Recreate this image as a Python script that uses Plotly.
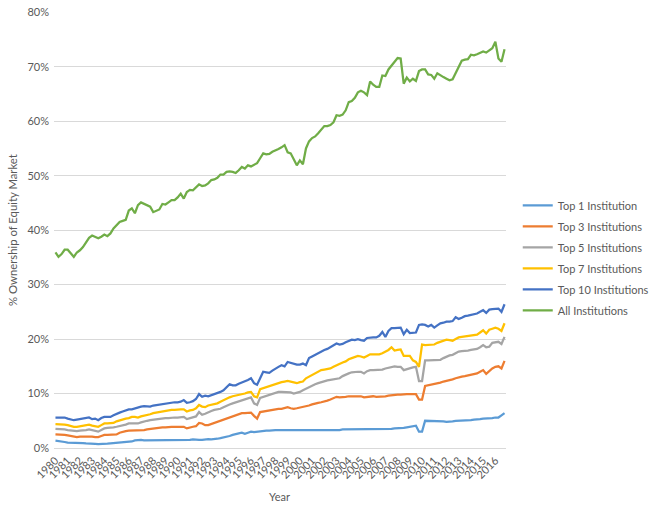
import plotly.graph_objects as go

years = list(range(1980, 2017))
year_labels = [str(y) for y in years]
y_ticks = [0, 10, 20, 30, 40, 50, 60, 70, 80]
y_tick_labels = ["0%", "10%", "20%", "30%", "40%", "50%", "60%", "70%", "80%"]

top1 = [1.35, 1.3, 1.2, 1.1, 1.0, 1.0, 0.95, 0.95, 0.9, 0.9, 0.85, 0.85, 0.8, 0.75, 0.7, 0.7,
        0.7, 0.8, 0.85, 0.9, 0.9, 1.0, 1.0, 1.1, 1.1, 1.2, 1.4, 1.5, 1.5, 1.4, 1.4, 1.4,
        1.4, 1.5, 1.5, 1.5, 1.5, 1.5, 1.5, 1.5, 1.4, 1.4, 1.4, 1.4, 1.5, 1.6, 1.5, 1.5,
        1.5, 1.6, 1.65, 1.6, 1.6, 1.7, 1.8, 1.9, 2.0, 2.2, 2.4, 2.6, 2.7, 2.8, 2.6, 2.8,
        3.0, 2.9, 3.0, 3.1, 3.1, 3.2, 3.2, 3.3, 3.3, 3.3, 3.3, 3.3, 3.3, 3.3, 3.2, 3.2,
        3.2, 3.2, 3.2, 3.2, 3.2, 3.2, 3.2, 3.2, 3.3, 3.3, 3.3, 3.3, 3.3, 3.3, 3.4, 3.4,
        3.4, 3.4, 3.5, 3.5, 3.5, 3.4, 3.4, 3.4, 3.4, 3.4, 3.4, 3.4, 3.5, 3.5, 3.5, 3.6,
        3.6, 3.6, 3.7, 3.8, 3.9, 4.0, 4.1, 3.0, 3.0, 5.0, 5.0, 5.0, 5.0, 5.0, 5.0, 4.9,
        4.8, 4.8, 4.9, 5.0, 5.0, 5.0, 5.0, 5.1, 5.1, 5.2, 5.2, 5.3, 5.4, 5.4, 5.5, 5.5,
        5.6, 5.6, 6.0, 6.4]

top3 = [2.5, 2.5, 2.4, 2.4, 2.3, 2.2, 2.0, 2.0, 2.1, 2.1, 2.2, 2.2, 2.1, 2.0, 2.0, 2.2,
        2.4, 2.4, 2.4, 2.4, 2.5, 2.8, 3.0, 3.1, 3.2, 3.2, 3.3, 3.3, 3.3, 3.3, 3.4, 3.5,
        3.5, 3.6, 3.7, 3.8, 3.8, 3.9, 3.9, 3.9, 3.9, 3.9, 3.9, 3.6, 3.8, 3.9, 4.0, 4.6,
        4.5, 4.2, 4.2, 4.4, 4.7, 4.8, 5.0, 5.2, 5.5, 5.7, 5.9, 6.0, 6.2, 6.4, 6.4, 6.5,
        6.5, 5.9, 5.4, 6.6, 6.7, 6.8, 7.0, 7.1, 7.1, 7.2, 7.2, 7.4, 7.5, 7.3, 7.2, 7.3,
        7.4, 7.5, 7.6, 7.8, 8.0, 8.2, 8.3, 8.4, 8.5, 8.7, 8.9, 9.1, 9.4, 9.3, 9.3, 9.4,
        9.5, 9.5, 9.5, 9.6, 9.5, 9.3, 9.4, 9.5, 9.5, 9.4, 9.4, 9.4, 9.5, 9.6, 9.7, 9.7,
        9.8, 9.8, 9.9, 9.9, 9.9, 9.9, 9.9, 8.9, 8.9, 11.4, 11.5, 11.6, 11.7, 11.9, 12.0, 12.2,
        12.3, 12.4, 12.6, 12.8, 13.0, 13.1, 13.2, 13.3, 13.4, 13.5, 13.7, 14.0, 14.3, 13.6, 14.2, 14.6,
        14.9, 15.0, 14.6, 16.0]

top5 = [3.5, 3.5, 3.4, 3.4, 3.3, 3.2, 3.1, 3.1, 3.2, 3.2, 3.3, 3.4, 3.3, 3.1, 3.0, 3.3,
        3.6, 3.7, 3.7, 3.8, 3.9, 4.0, 4.2, 4.3, 4.5, 4.5, 4.5, 4.5, 4.7, 4.9, 5.0, 5.1,
        5.2, 5.2, 5.3, 5.4, 5.5, 5.5, 5.6, 5.6, 5.6, 5.7, 5.7, 5.3, 5.5, 5.6, 5.8, 6.6,
        6.1, 6.3, 6.6, 6.8, 7.0, 7.1, 7.2, 7.5, 7.8, 8.0, 8.2, 8.4, 8.6, 8.7, 8.9, 9.1,
        9.3, 8.2, 7.9, 9.2, 9.4, 9.5, 9.7, 9.9, 10.1, 10.3, 10.3, 10.3, 10.3, 10.2, 10.0, 10.1,
        10.3, 10.6, 10.9, 11.2, 11.5, 11.7, 11.9, 12.1, 12.3, 12.4, 12.5, 12.6, 12.7, 12.8, 13.2, 13.5,
        13.7, 13.9, 14.0, 14.0, 14.0, 13.7, 14.1, 14.3, 14.3, 14.3, 14.3, 14.4, 14.6, 14.7, 14.9, 15.0,
        14.9, 14.9, 14.3, 14.5, 14.6, 14.8, 14.9, 12.3, 12.3, 16.1, 16.1, 16.1, 16.1, 16.2, 16.2, 16.5,
        16.8, 17.0, 17.1, 17.4, 17.7, 17.8, 17.8, 17.9, 18.0, 18.1, 18.2, 18.5, 18.9, 18.5, 18.6, 19.3,
        19.4, 19.5, 19.1, 20.4]

top7 = [4.4, 4.4, 4.3, 4.3, 4.2, 4.0, 3.9, 3.9, 4.0, 4.0, 4.1, 4.3, 4.1, 4.0, 3.9, 4.2,
        4.5, 4.5, 4.6, 4.6, 4.9, 5.1, 5.3, 5.4, 5.5, 5.7, 5.7, 5.6, 5.8, 5.9, 6.1, 6.2,
        6.4, 6.5, 6.7, 6.8, 6.9, 7.0, 7.0, 7.0, 7.1, 7.1, 7.1, 6.7, 6.9, 7.0, 7.3, 7.9,
        7.6, 7.5, 7.8, 7.9, 8.1, 8.2, 8.5, 8.8, 9.1, 9.3, 9.5, 9.6, 9.7, 9.9, 10.0, 10.2,
        10.3, 9.5, 9.3, 10.8, 11.0, 11.1, 11.3, 11.5, 11.7, 11.9, 12.1, 12.2, 12.3, 12.2, 12.0, 11.9,
        12.1, 12.2, 12.8, 13.1, 13.5, 13.8, 14.0, 14.3, 14.4, 14.5, 14.6, 14.9, 15.2, 15.4, 15.7, 15.9,
        16.3, 16.5, 16.7, 16.9, 16.8, 16.6, 16.9, 17.2, 17.2, 17.2, 17.2, 17.4, 17.7, 18.0, 18.5, 17.9,
        18.0, 18.1, 16.9, 16.9, 16.9, 16.1, 15.8, 14.9, 19.0, 18.9, 18.9, 19.0, 19.0, 19.3, 19.5, 19.6,
        19.9, 19.8, 19.7, 20.0, 20.3, 20.4, 20.5, 20.6, 20.7, 20.7, 20.8, 21.2, 21.6, 21.0, 21.7, 21.9,
        22.1, 21.9, 21.5, 22.9]

top10 = [5.6, 5.6, 5.5, 5.6, 5.4, 5.2, 5.1, 5.2, 5.3, 5.3, 5.4, 5.6, 5.3, 5.4, 5.1, 5.5,
         5.7, 5.7, 5.7, 6.0, 6.3, 6.5, 6.7, 6.9, 7.1, 7.1, 7.3, 7.4, 7.6, 7.7, 7.7, 7.6,
         7.8, 7.9, 8.0, 8.1, 8.2, 8.3, 8.3, 8.4, 8.4, 8.5, 8.8, 8.3, 8.4, 8.6, 9.0, 9.9,
         9.4, 9.6, 9.5, 9.7, 9.9, 10.0, 10.3, 10.6, 11.2, 11.7, 11.5, 11.5, 11.8, 12.0, 12.2, 12.5,
         12.8, 11.9, 11.6, 12.8, 14.0, 13.9, 13.8, 14.2, 14.6, 14.9, 15.2, 15.0, 15.8, 15.6, 15.5, 15.3,
         15.3, 15.5, 15.2, 16.5, 16.8, 17.1, 17.5, 17.8, 18.0, 18.2, 18.5, 18.8, 19.2, 19.0, 19.1, 19.4,
         19.7, 19.9, 19.8, 20.0, 19.8, 19.7, 20.2, 20.3, 20.3, 20.3, 20.6, 21.3, 20.4, 21.5, 22.0, 22.0,
         22.0, 22.1, 20.9, 21.7, 21.1, 21.1, 21.2, 22.6, 22.7, 22.6, 22.3, 22.6, 22.1, 22.5, 22.9, 23.0,
         23.2, 23.2, 23.3, 24.0, 23.7, 23.9, 24.2, 24.3, 24.4, 24.5, 24.7, 25.0, 25.3, 24.8, 25.4, 25.5,
         25.6, 25.6, 25.0, 26.4]

all_inst = [35.9, 35.1, 35.6, 36.4, 36.4, 35.8, 35.1, 35.9, 36.3, 36.9, 37.8, 38.6, 39.0, 38.8, 38.5, 38.8,
            39.2, 38.9, 39.4, 40.3, 41.0, 41.5, 41.7, 41.9, 43.6, 44.0, 43.1, 44.6, 45.1, 44.8, 44.6, 44.3,
            43.3, 43.6, 43.8, 44.8, 44.7, 45.1, 45.5, 45.5, 46.0, 46.7, 45.8, 47.0, 47.4, 47.3, 47.9, 48.4,
            48.1, 48.2, 48.6, 49.2, 49.3, 49.6, 50.2, 50.2, 50.7, 50.8, 50.7, 50.5, 51.0, 51.6, 51.3, 51.9,
            51.7, 52.0, 52.3, 53.2, 54.1, 53.9, 54.0, 54.4, 54.6, 54.9, 55.2, 55.6, 54.3, 54.1, 53.0, 51.9,
            52.8, 52.1, 55.0, 56.3, 56.9, 57.2, 57.8, 58.5, 59.1, 59.1, 59.3, 59.8, 61.1, 61.0, 61.2, 62.0,
            63.5, 63.7, 64.3, 65.3, 65.6, 65.3, 64.8, 67.3, 66.7, 66.3, 66.3, 68.4, 68.3, 69.5, 70.2, 70.9,
            71.6, 71.5, 66.9, 68.0, 67.3, 67.8, 67.4, 69.2, 69.5, 69.5, 68.6, 68.5, 67.8, 68.8, 68.4, 68.1,
            67.8, 67.5, 67.7, 68.8, 70.0, 71.1, 71.3, 71.4, 72.2, 72.1, 72.3, 72.6, 72.8, 72.6, 73.0, 73.4,
            74.6, 71.5, 70.9, 73.2]

series_names = ["Top 1 Institution", "Top 3 Institutions", "Top 5 Institutions",
                "Top 7 Institutions", "Top 10 Institutions", "All Institutions"]
series_values = [top1, top3, top5, top7, top10, all_inst]
series_colors = ["#5B9BD5", "#ED7D31", "#A5A5A5", "#FFC000", "#4472C4", "#70AD47"]

# quarterly positions starting 1980 Q1
quarters = [years[0] + i / 4 for i in range(len(all_inst))]

FONT = "Lato, 'Open Sans', sans-serif"
TXT = "#595959"

fig = go.Figure()
for name, vals, col in zip(series_names, series_values, series_colors):
    fig.add_trace(go.Scatter(x=quarters, y=vals, mode="lines", name=name,
                             legendgroup=name,
                             line=dict(color=col, width=2.25)))

fig.update_layout(
    width=656, height=507,
    margin=dict(l=54, r=150, t=12, b=59, autoexpand=False),
    paper_bgcolor="white", plot_bgcolor="white",
    font=dict(family=FONT, size=11, color=TXT),
    showlegend=True,
    legend=dict(x=1.026, y=0.590, xanchor="left", yanchor="top",
                font=dict(size=11, color=TXT), itemwidth=30,
                tracegroupgap=2, bgcolor="rgba(0,0,0,0)"),
    xaxis=dict(range=[1979.88, 2016.87], tickvals=years, ticktext=year_labels,
               tickangle=-45, showgrid=False, zeroline=False, showline=False,
               ticks="", ticklabelstandoff=3, tickfont=dict(size=11, color=TXT),
               automargin=False),
    yaxis=dict(range=[0, 80.05], tickvals=y_ticks, ticktext=y_tick_labels,
               showgrid=True,
               gridcolor="#D9D9D9", gridwidth=1, zeroline=True, zerolinecolor="#D9D9D9",
               zerolinewidth=1, showline=False, ticks="", ticklabelstandoff=4,
               ticklabeloverflow="allow",
               tickfont=dict(size=11, color=TXT), automargin=False),
    annotations=[
        dict(text="Year", xref="paper", yref="paper", x=0.498, y=-0.112,
             xanchor="center", yanchor="middle", showarrow=False,
             font=dict(size=11, color=TXT)),
        dict(text="% Ownership of Equity Market", xref="paper", yref="paper",
             x=-0.093, y=0.5, xanchor="center", yanchor="middle", textangle=-90,
             showarrow=False, font=dict(size=11.3, color=TXT)),
    ],
)

# remove the default 8px page margin so the figure fills the window exactly
fig.write_html("out.html", config={"displayModeBar": False},
               post_script="document.body.style.margin='0';document.body.style.padding='0';")
